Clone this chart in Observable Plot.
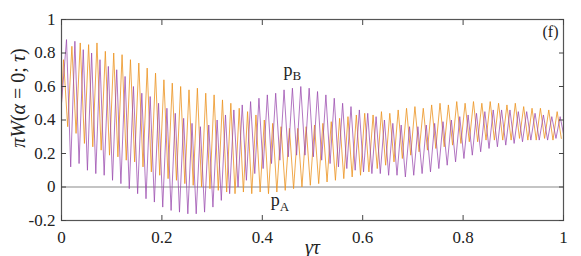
<!DOCTYPE html>
<html><head><meta charset="utf-8">
<script src="https://cdn.jsdelivr.net/npm/d3@7"></script>
<script src="https://cdn.jsdelivr.net/npm/@observablehq/plot@0.6"></script>
<style>body{margin:0;background:#fff} svg, svg text{font-family:"Liberation Serif","Times New Roman",serif !important}</style>
</head><body><div id="chart"></div><script>
// oscillation period in gamma*tau (about 60 cycles across the window)
const period = 1 / 60;
const startValue = 0.5;

// p_A (orange): successive maxima and minima
const orangePeaks = [0.76,0.84,0.86,0.85,0.86,0.81,0.80,0.79,0.76,0.74,0.71,0.68,0.64,0.62,0.60,0.58,0.59,0.56,0.55,0.52,
  0.50,0.47,0.45,0.43,0.40,0.38,0.36,0.35,0.35,0.36,0.37,0.38,0.39,0.41,0.42,0.43,0.44,0.43,0.45,0.44,
  0.46,0.47,0.48,0.47,0.49,0.50,0.49,0.51,0.50,0.51,0.50,0.51,0.50,0.49,0.50,0.48,0.47,0.47,0.46,0.45];
const orangeTroughs = [0.36,0.32,0.26,0.24,0.22,0.19,0.18,0.16,0.15,0.12,0.09,0.07,0.05,0.04,0.02,0.01,0.00,-0.01,-0.02,-0.03,
  -0.04,-0.03,-0.04,-0.03,-0.04,-0.03,-0.02,-0.01,0.00,0.01,0.02,0.03,0.04,0.05,0.06,0.07,0.09,0.11,0.13,0.15,
  0.17,0.19,0.21,0.22,0.23,0.24,0.25,0.26,0.27,0.27,0.28,0.28,0.28,0.28,0.29,0.28,0.28,0.29,0.28,0.29];

// p_B (purple)
const purplePeaks = [0.88,0.87,0.82,0.80,0.76,0.72,0.70,0.66,0.60,0.56,0.54,0.50,0.47,0.44,0.41,0.38,0.36,0.37,0.40,0.43,
  0.46,0.49,0.51,0.53,0.55,0.56,0.58,0.59,0.60,0.59,0.57,0.55,0.53,0.50,0.48,0.46,0.44,0.42,0.40,0.38,
  0.37,0.36,0.36,0.37,0.38,0.39,0.40,0.42,0.43,0.44,0.45,0.46,0.46,0.46,0.45,0.45,0.44,0.43,0.42,0.42];
const purpleTroughs = [0.12,0.14,0.10,0.08,0.07,0.04,0.02,-0.01,-0.04,-0.07,-0.09,-0.12,-0.14,-0.15,-0.16,-0.16,-0.15,-0.12,-0.08,-0.04,
  0.00,0.04,0.08,0.11,0.14,0.16,0.18,0.19,0.19,0.18,0.16,0.14,0.12,0.11,0.10,0.09,0.08,0.08,0.07,0.07,
  0.06,0.07,0.08,0.09,0.11,0.13,0.15,0.17,0.19,0.21,0.23,0.24,0.25,0.26,0.27,0.28,0.28,0.28,0.29,0.29];

const xTicks = [0, 0.2, 0.4, 0.6, 0.8, 1];
const xTickLabels = ["0", "0.2", "0.4", "0.6", "0.8", "1"];
const yTicks = [-0.2, 0, 0.2, 0.4, 0.6, 0.8, 1];
const yTickLabels = ["-0.2", "0", "0.2", "0.4", "0.6", "0.8", "1"];

const annotations = [
  {name: "p", sub: "B", t: 0.46, v: 0.70},
  {name: "p", sub: "A", t: 0.435, v: -0.08}
];

function series(peaks, troughs, phase) {
  const pts = [{t: 0, v: startValue}];
  peaks.forEach((p, k) => {
    pts.push({t: phase + k * period, v: p});
    pts.push({t: phase + k * period + period / 2, v: troughs[k]});
  });
  return pts;
}
const orange = series(orangePeaks, orangeTroughs, 0.004);
const purple = series(purplePeaks, purpleTroughs, 0.010);

const plot = Plot.plot({
  width: 581, height: 256,
  marginLeft: 61, marginRight: 18, marginTop: 19, marginBottom: 36,
  x: {domain: [0, 1]},
  y: {domain: [-0.2, 1]},
  style: {fontFamily: "'Liberation Serif', serif", fontSize: "17px", color: "#222", background: "#fff"},
  marks: [
    Plot.ruleY([0], {stroke: "#8a8a8a", strokeWidth: 1.2}),
    Plot.line(orange, {x: "t", y: "v", stroke: "#ec9420", strokeWidth: 1, strokeOpacity: 0.8, clip: true}),
    Plot.line(purple, {x: "t", y: "v", stroke: "#9a4aae", strokeWidth: 1, strokeOpacity: 0.75, clip: true}),
    Plot.frame({stroke: "#555", strokeWidth: 1.2}),
    Plot.axisX({anchor: "bottom", ticks: xTicks, tickSize: 0, tickPadding: 10, tickFormat: (d, i) => xTickLabels[i], label: null}),
    Plot.axisX({anchor: "bottom", ticks: xTicks, tickSize: -5, fill: "none", label: null, stroke: "#444"}),
    Plot.axisX({anchor: "top", ticks: xTicks, tickSize: -5, fill: "none", label: null, stroke: "#444"}),
    Plot.axisY({anchor: "left", ticks: yTicks, tickSize: 0, tickPadding: 6, tickFormat: (d, i) => yTickLabels[i], label: null}),
    Plot.axisY({anchor: "left", ticks: yTicks, tickSize: -5, fill: "none", label: null, stroke: "#444"}),
    Plot.axisY({anchor: "right", ticks: yTicks, tickSize: -5, fill: "none", label: null, stroke: "#444"}),
    Plot.text(["(f)"], {frameAnchor: "top-right", dx: -5, dy: 6, textAnchor: "end", lineAnchor: "top", fontSize: 16, fill: "#222"}),
    Plot.text(annotations, {x: "t", y: "v", text: d => d.name + d.sub, fontSize: 18, fill: "#222"}),
    Plot.text(["πW(α = 0; τ)"], {frameAnchor: "left", dx: -43, dy: -22, rotate: -90, textAnchor: "middle", fontSize: 20, fill: "#222"}),
    Plot.text(["γτ"], {frameAnchor: "bottom", dx: 0, dy: 33, lineAnchor: "bottom", fontSize: 20, fontStyle: "italic", fill: "#222"})
  ]
});
document.getElementById("chart").appendChild(plot);

// subscripts and math styling
const svg = d3.select(plot);
annotations.forEach(a => {
  svg.selectAll("text").filter(function() { return this.textContent === a.name + a.sub; }).each(function() {
    const t = d3.select(this);
    t.text(null);
    t.append("tspan").text(a.name);
    t.append("tspan").attr("font-size", 13).attr("dy", "0.35em").text(a.sub);
  });
});
svg.selectAll("text").filter(function() { return this.textContent === "πW(α = 0; τ)"; }).each(function() {
  const t = d3.select(this);
  t.text(null);
  const parts = [["π", true], ["W", true], ["(", false], ["α", true], [" = 0; ", false], ["τ", true], [")", false]];
  parts.forEach(([s, it]) => t.append("tspan").attr("font-style", it ? "italic" : "normal").text(s));
});
</script></body></html>
